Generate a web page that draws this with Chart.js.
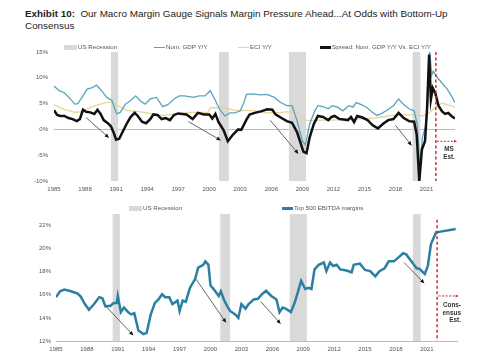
<!DOCTYPE html>
<html><head><meta charset="utf-8">
<script src="https://cdn.jsdelivr.net/npm/chart.js@4.4.0/dist/chart.umd.min.js"></script>
<style>
html,body{margin:0;padding:0;background:#fff;}
body{width:485px;height:360px;position:relative;overflow:hidden;font-family:"Liberation Sans",Arial,sans-serif;}
#title{position:absolute;left:25px;top:8px;font-size:9.9px;line-height:12px;color:#222;white-space:nowrap;}
.cw{position:absolute;left:0;width:485px;height:160px;}
.lg{position:absolute;font-size:6.2px;color:#555;white-space:nowrap;line-height:8px;}
.sw{position:absolute;}
.est{position:absolute;font-size:6.4px;line-height:7.5px;color:#333;font-weight:bold;white-space:nowrap;}
</style></head>
<body>
<div id="title"><b>Exhibit 10:</b>&nbsp; Our Macro Margin Gauge Signals Margin Pressure Ahead...At Odds with Bottom-Up<br>Consensus</div>

<div class="cw" style="top:40px"><canvas id="top" width="485" height="160"></canvas></div>
<div class="cw" style="top:200px"><canvas id="bot" width="485" height="160"></canvas></div>

<!-- top legend -->
<div class="sw" style="left:64px;top:45px;width:13px;height:5px;background:#d9d9d9"></div>
<div class="lg" style="left:78px;top:43px">US Recession</div>
<div class="sw" style="left:154px;top:46.5px;width:11px;height:1.5px;background:#5aa3bf"></div>
<div class="lg" style="left:166px;top:43px">Nom. GDP Y/Y</div>
<div class="sw" style="left:238px;top:46.5px;width:11px;height:1.5px;background:#e6d59c"></div>
<div class="lg" style="left:250px;top:43px">ECI Y/Y</div>
<div class="sw" style="left:320px;top:46px;width:11px;height:2.5px;background:#111"></div>
<div class="lg" style="left:332px;top:43px">Spread: Nom. GDP Y/Y Vs. ECI Y/Y</div>
<div class="est" style="left:438px;top:145px;width:22px;text-align:center">MS<br>Est.</div>

<!-- bottom legend -->
<div class="sw" style="left:129px;top:205.5px;width:13px;height:5px;background:#d9d9d9"></div>
<div class="lg" style="left:143px;top:204px">US Recession</div>
<div class="sw" style="left:282px;top:207px;width:11px;height:2.5px;background:#2b7fa3"></div>
<div class="lg" style="left:294px;top:204px">Top 500 EBITDA margins</div>
<div class="est" style="left:430px;top:301px;width:31px;text-align:right">Cons-<br>ensus<br>Est.</div>

<script>
// ---------- DATA ----------
const xTicks = [1985,1988,1991,1994,1997,2000,2003,2006,2009,2012,2015,2018,2021];
const topYTicks = [-10,-5,0,5,10,15];
const botYTicks = [12,14,16,18,20,22];
const recessions = [[1990.5,1991.2],[2000.95,2001.9],[2007.7,2009.35],[2019.65,2020.4]];

const gdpYears  = [1985.0,1985.5,1986.0,1986.5,1987.0,1987.3,1987.8,1988.2,1988.7,1989.1,1989.6,1990.1,1990.6,1991.05,1991.4,1991.9,1992.4,1992.9,1993.3,1993.8,1994.3,1994.9,1995.5,1996.0,1996.6,1997.1,1997.6,1998.5,1999.0,1999.6,2000.1,2000.6,2001.0,2001.5,2002.0,2002.5,2003.0,2003.3,2003.6,2004.3,2004.9,2005.6,2006.3,2006.9,2007.5,2008.0,2008.5,2009.0,2009.3,2009.7,2010.2,2010.5,2011.0,2011.5,2011.9,2012.4,2012.9,2013.5,2013.9,2014.2,2014.7,2015.2,2015.7,2016.2,2016.6,2017.1,2017.8,2018.3,2018.8,2019.3,2019.8,2020.1,2020.35,2020.6,2020.9,2021.1,2021.3,2021.5,2021.65,2022.0,2022.6,2023.0,2023.4,2023.75];
const gdpValues = [8.4,7.5,7.1,6.1,4.9,5.0,6.5,7.8,8.1,8.6,7.5,6.2,5.6,3.0,3.3,4.9,5.6,6.5,5.6,4.9,5.9,6.2,4.4,4.8,5.9,6.5,6.5,6.2,6.5,6.5,7.5,5.6,3.9,2.6,3.2,3.2,3.6,4.9,6.8,6.9,6.7,6.8,6.2,5.2,4.6,4.6,1.6,-2.3,-3.0,1.0,3.6,4.6,4.4,4.0,4.6,4.3,3.6,4.6,4.3,5.2,4.8,4.3,3.4,2.7,3.0,3.6,4.6,5.9,4.8,4.0,3.6,1.0,-7.5,-1.5,0.5,4.5,15.5,10.5,11.3,10.2,8.7,7.8,6.5,5.2];

const eciYears  = [1985,1985.5,1986,1986.5,1987,1987.5,1988,1988.5,1989,1989.5,1990,1990.5,1991,1991.5,1992,1993,1994,1995,1995.5,1996,1997,1998,1999,1999.9,2000.1,2001,2001.8,2002.5,2003.5,2004.5,2005.5,2006.5,2007.5,2008.3,2008.8,2009.3,2010,2011,2012,2013,2014,2015,2016,2017,2018,2019,2020,2020.5,2021,2021.5,2022,2022.5,2023,2023.75];
const eciValues = [4.8,4.3,3.9,3.6,3.3,3.4,3.9,4.2,4.6,4.9,5.2,5.3,4.7,4.3,3.7,3.5,3.2,2.8,2.7,2.8,3.0,3.3,3.3,3.3,4.2,4.2,4.0,3.7,3.7,3.6,3.2,3.2,3.4,3.3,2.7,1.8,1.7,1.8,1.8,1.9,2.0,2.1,2.2,2.5,2.8,2.8,2.8,2.6,2.8,3.6,4.6,5.1,4.8,4.3];

const spreadYears  = [1985.0,1985.3,1985.6,1986.0,1986.4,1986.8,1987.2,1987.5,1987.8,1988.1,1988.5,1988.9,1989.2,1989.5,1989.8,1990.2,1990.5,1990.8,1991.0,1991.3,1991.6,1992.0,1992.4,1992.8,1993.1,1993.5,1993.9,1994.3,1994.6,1995.0,1995.4,1995.8,1996.2,1996.6,1997.0,1997.4,1997.8,1998.4,1998.9,1999.5,2000.0,2000.3,2000.6,2000.9,2001.4,2001.8,2002.3,2002.8,2003.1,2003.6,2003.9,2004.4,2005.0,2005.6,2006.1,2006.4,2006.9,2007.5,2008.0,2008.5,2009.1,2009.4,2009.7,2010.1,2010.5,2011.0,2011.5,2011.8,2012.1,2012.6,2013.0,2013.4,2013.7,2014.0,2014.3,2014.8,2015.3,2015.8,2016.3,2016.8,2017.3,2017.8,2018.3,2018.8,2019.3,2019.8,2020.05,2020.3,2020.55,2020.85,2021.05,2021.25,2021.42,2021.6,2021.85,2022.15,2022.5,2022.8,2023.1,2023.4,2023.75];
const spreadValues = [3.7,2.8,2.6,2.6,2.2,2.0,1.6,2.0,3.8,3.4,3.3,3.0,3.8,3.0,1.8,1.2,0.6,-0.8,-2.0,-1.8,-0.6,1.0,2.4,3.2,2.6,1.5,1.2,2.0,2.9,2.8,2.0,2.2,1.8,2.8,3.1,3.0,2.9,2.0,3.2,2.9,2.9,2.1,3.0,1.4,-0.2,-2.3,-1.0,0.0,-0.1,1.9,2.9,3.2,3.5,3.9,3.8,2.9,2.3,1.6,1.3,-0.6,-4.3,-4.6,-1.6,1.0,2.6,2.4,1.8,2.4,2.6,2.0,1.9,1.8,2.4,1.4,2.6,2.3,1.8,0.8,0.2,1.1,1.8,2.0,3.2,2.2,1.6,1.5,-1.0,-10.0,-3.9,-2.3,4.0,14.5,5.8,8.0,7.0,4.6,3.5,3.0,3.2,2.6,2.1];

const ebitdaYears  = [1985.0,1985.4,1985.8,1986.3,1986.8,1987.1,1987.4,1987.8,1988.2,1988.7,1989.2,1989.5,1989.8,1990.3,1990.6,1990.9,1991.0,1991.3,1991.6,1992.0,1992.3,1992.6,1993.0,1993.5,1993.8,1994.2,1994.6,1994.95,1995.3,1995.6,1996.0,1996.3,1996.8,1997.0,1997.3,1997.6,1998.0,1998.5,1998.8,1999.3,1999.5,1999.8,2000.0,2000.3,2000.8,2001.0,2001.3,2001.6,2001.9,2002.4,2002.7,2003.0,2003.4,2003.7,2004.2,2004.6,2005.0,2005.4,2005.9,2006.4,2006.7,2007.0,2007.3,2007.8,2008.2,2008.5,2008.8,2009.2,2009.5,2009.8,2010.1,2010.5,2011.0,2011.25,2011.6,2011.9,2012.25,2012.6,2013.2,2013.7,2013.9,2014.5,2015.0,2015.5,2016.0,2016.4,2016.9,2017.3,2017.8,2018.2,2018.7,2019.0,2019.5,2020.0,2020.3,2020.8,2021.1,2021.4,2021.9,2022.2,2023.8];
const ebitdaValues = [15.8,16.3,16.45,16.35,16.2,16.1,15.85,15.2,14.7,15.2,15.8,15.7,15.0,15.05,15.3,15.3,15.9,14.5,14.9,14.5,14.3,14.4,12.9,12.6,12.7,14.3,15.3,15.6,16.05,15.8,15.8,15.2,15.5,14.6,15.5,15.4,16.6,17.35,18.35,18.6,18.9,18.6,16.8,16.5,15.9,16.3,15.6,15.05,14.6,14.3,14.0,15.2,14.8,15.2,15.6,15.65,16.05,16.35,15.9,15.6,14.5,14.9,14.8,14.5,15.4,16.3,17.2,16.5,16.6,16.5,18.2,18.6,18.8,18.05,18.8,18.5,18.6,18.2,18.1,17.95,18.6,18.7,18.15,18.05,17.6,18.05,18.3,18.9,18.9,19.2,19.6,19.5,18.9,18.3,18.25,17.8,18.5,20.4,21.4,21.45,21.7];

// arrows: [x1,y1,x2,y2] in data units
const topArrows = [[1988.1,2.3,1990.3,-1.6],[1998.0,1.5,2001.1,-2.1],[2005.9,1.75,2008.6,-4.7],[2018.0,0.8,2019.55,-3.1]];
const botArrows = [[1989.85,15.0,1992.5,12.5],[1998.6,17.35,2001.5,13.6],[2004.9,15.4,2006.8,13.5],[2018.8,18.8,2020.75,17.0]];

// ---------- DRAW HELPERS ----------
function pts(xs, ys){ return xs.map((x,i)=>({x:x, y:ys[i]})); }

function arrowHead(ctx,x1,y1,x2,y2,size,color){
  const a = Math.atan2(y2-y1,x2-x1);
  ctx.fillStyle = color;
  ctx.beginPath();
  ctx.moveTo(x2,y2);
  ctx.lineTo(x2-size*Math.cos(a-0.45), y2-size*Math.sin(a-0.45));
  ctx.lineTo(x2-size*Math.cos(a+0.45), y2-size*Math.sin(a+0.45));
  ctx.closePath(); ctx.fill();
}

const annotPlugin = {
  id:'annot',
  beforeDatasetsDraw(chart, args, o){
    const {ctx, chartArea:ca, scales:{x,y}} = chart;
    ctx.save();
    ctx.fillStyle = '#d9d9d9';
    const top = ca.top;
    o.recessions.forEach(r=>{
      const a = x.getPixelForValue(r[0]), b = x.getPixelForValue(r[1]);
      ctx.fillRect(a, top, b-a, ca.bottom-top);
    });
    ctx.restore();
  },
  afterDatasetsDraw(chart, args, o){
    const {ctx, chartArea:ca, scales:{x,y}} = chart;
    ctx.save();
    o.arrows.forEach(a=>{
      const x1=x.getPixelForValue(a[0]), y1=y.getPixelForValue(a[1]);
      const x2=x.getPixelForValue(a[2]), y2=y.getPixelForValue(a[3]);
      ctx.strokeStyle='#666'; ctx.lineWidth=1;
      ctx.beginPath(); ctx.moveTo(x1,y1); ctx.lineTo(x2,y2); ctx.stroke();
      arrowHead(ctx,x1,y1,x2,y2,4.5,'#111');
    });
    const ex = x.getPixelForValue(o.estX);
    ctx.strokeStyle='#c9302c'; ctx.lineWidth=1.5; ctx.setLineDash([3,2.5]);
    ctx.beginPath(); ctx.moveTo(ex, y.getPixelForValue(o.estTop)); ctx.lineTo(ex, ca.bottom); ctx.stroke();
    const ax1 = x.getPixelForValue(o.estArrow[0]), ax2 = x.getPixelForValue(o.estArrow[1]), ay = y.getPixelForValue(o.estArrow[2]);
    ctx.lineWidth=1; ctx.setLineDash([2,1.5]);
    ctx.beginPath(); ctx.moveTo(ax1,ay); ctx.lineTo(ax2-2,ay); ctx.stroke();
    ctx.setLineDash([]);
    arrowHead(ctx,ax1,ay,ax2,ay,3.5,'#c9302c');
    ctx.restore();
  }
};

const tickFont = {family:'"Liberation Sans", Arial, sans-serif', size:6};

function xScale(min,max,border){
  return {
    type:'linear', min:min, max:max,
    afterBuildTicks: s => { s.ticks = xTicks.map(v=>({value:v})); },
    afterFit: s => { s.height = 16; },
    grid:{display:false, drawTicks:false},
    border:{display:border, color:'#bdbdbd', width:1},
    ticks:{font:tickFont, color:'#555', padding:5, maxRotation:0, autoSkip:false, callback:v=>String(v)}
  };
}

// ---------- TOP CHART ----------
new Chart(document.getElementById('top'), {
  type:'line',
  data:{datasets:[
    {label:'Spread: Nom. GDP Y/Y Vs. ECI Y/Y', data:pts(spreadYears,spreadValues), borderColor:'#111', borderWidth:2.5, pointRadius:0, order:1},
    {label:'Nom. GDP Y/Y', data:pts(gdpYears,gdpValues), borderColor:'#5aa3bf', borderWidth:1.3, pointRadius:0, order:2},
    {label:'ECI Y/Y', data:pts(eciYears,eciValues), borderColor:'#e6d59c', borderWidth:1.3, pointRadius:0, order:3}
  ]},
  options:{
    responsive:false, animation:false, devicePixelRatio:1,
    layout:{padding:{left:4,right:30,top:12,bottom:3}},
    plugins:{legend:{display:false}, tooltip:{enabled:false},
      annot:{recessions:recessions, arrows:topArrows, estX:2021.9, estTop:15, estArrow:[2022.0,2023.95,-2.3]}},
    scales:{
      x: xScale(1985,2023.75,false),
      y:{min:-10,max:15,
        afterBuildTicks: s => { s.ticks = topYTicks.map(v=>({value:v})); },
        afterFit: s => { s.width = 50; },
        grid:{color:c=>c.tick && c.tick.value===0 ? '#bdbdbd' : 'rgba(0,0,0,0)', drawTicks:false, lineWidth:1},
        border:{display:false},
        ticks:{font:tickFont, color:'#555', padding:6, callback:v=>v+'%'}}
    }
  },
  plugins:[annotPlugin]
});

// ---------- BOTTOM CHART ----------
new Chart(document.getElementById('bot'), {
  type:'line',
  data:{datasets:[
    {label:'Top 500 EBITDA margins', data:pts(ebitdaYears,ebitdaValues), borderColor:'#2b7fa3', borderWidth:2.5, pointRadius:0}
  ]},
  options:{
    responsive:false, animation:false, devicePixelRatio:1,
    layout:{padding:{left:4,right:28,top:14,bottom:3}},
    plugins:{legend:{display:false}, tooltip:{enabled:false},
      annot:{recessions:recessions, arrows:botArrows, estX:2022.0, estTop:22.5, estArrow:[2022.15,2024.1,15.9]}},
    scales:{
      x: xScale(1985,2023.93,true),
      y:{min:12,max:23,
        afterBuildTicks: s => { s.ticks = botYTicks.map(v=>({value:v})); },
        afterFit: s => { s.width = 52; },
        grid:{display:false, drawTicks:false},
        border:{display:false},
        ticks:{font:tickFont, color:'#555', padding:5, callback:v=>v+'%'}}
    }
  },
  plugins:[annotPlugin]
});
</script>
</body></html>
